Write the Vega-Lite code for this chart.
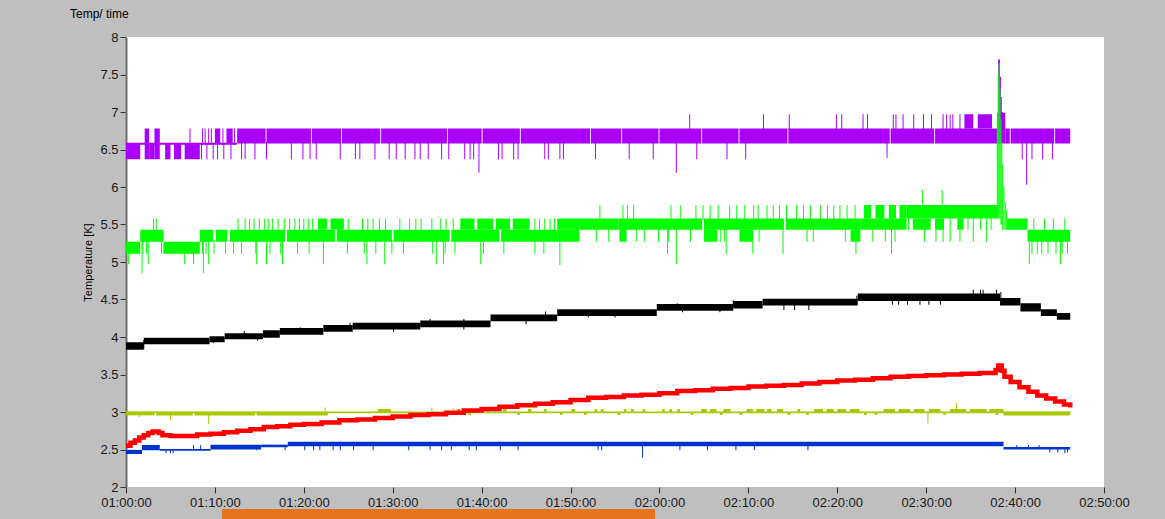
{
"$schema":"https://vega.github.io/schema/vega-lite/v6.json",
"width":978,"height":450,
"autosize":{"type":"none"},
"padding":{"left":126,"top":37,"right":61,"bottom":32},
"background":"#bfbfbf",
"title":{"text":"Temp/ time","anchor":"start","frame":"group","dx":-56,"offset":10,"fontSize":12,"font":"Liberation Sans","fontWeight":"normal","color":"#000000"},
"config":{"view":{"fill":"white","stroke":null},
 "axis":{"grid":false,"labelFont":"Liberation Sans","labelFontSize":13,"labelColor":"#1a1a1a","tickColor":"#333333","tickSize":6,"labelPadding":2,"titleFont":"Liberation Sans","titleFontWeight":"normal","titleColor":"#000000","labelOverlap":false,"labelFlush":false}},
"datasets":{
"bands":[
{"s":"T1","a":0,"b":1.6,"lo":6.37,"hi":6.58},
{"s":"T1","a":2.1,"b":2.6,"lo":6.37,"hi":6.78},
{"s":"T1","a":2.6,"b":3.2,"lo":6.37,"hi":6.58},
{"s":"T1","a":3.2,"b":3.8,"lo":6.37,"hi":6.78},
{"s":"T1","a":4.4,"b":5.0,"lo":6.37,"hi":6.58},
{"s":"T1","a":5.4,"b":6.2,"lo":6.37,"hi":6.58},
{"s":"T1","a":6.6,"b":8.3,"lo":6.37,"hi":6.58},
{"s":"T1","a":0,"b":12.5,"lo":6.565,"hi":6.59},
{"s":"T1","a":10.0,"b":10.6,"lo":6.58,"hi":6.78},
{"s":"T1","a":11.3,"b":12.0,"lo":6.58,"hi":6.78},
{"s":"T1","a":12.5,"b":15.7,"lo":6.58,"hi":6.78},
{"s":"T1","a":15.8,"b":20.8,"lo":6.58,"hi":6.78},
{"s":"T1","a":20.9,"b":24.2,"lo":6.58,"hi":6.78},
{"s":"T1","a":24.3,"b":28.6,"lo":6.58,"hi":6.78},
{"s":"T1","a":28.7,"b":36.1,"lo":6.58,"hi":6.78},
{"s":"T1","a":36.2,"b":40.0,"lo":6.58,"hi":6.78},
{"s":"T1","a":40.1,"b":44.3,"lo":6.58,"hi":6.78},
{"s":"T1","a":44.4,"b":52.2,"lo":6.58,"hi":6.78},
{"s":"T1","a":52.3,"b":55.7,"lo":6.58,"hi":6.78},
{"s":"T1","a":55.8,"b":59.9,"lo":6.58,"hi":6.78},
{"s":"T1","a":60.0,"b":64.7,"lo":6.58,"hi":6.78},
{"s":"T1","a":64.8,"b":68.9,"lo":6.58,"hi":6.78},
{"s":"T1","a":69.0,"b":74.4,"lo":6.58,"hi":6.78},
{"s":"T1","a":74.5,"b":85.9,"lo":6.58,"hi":6.78},
{"s":"T1","a":86.0,"b":90.9,"lo":6.58,"hi":6.78},
{"s":"T1","a":91.0,"b":98.0,"lo":6.58,"hi":6.78},
{"s":"T1","a":98.0,"b":98.9,"lo":6.58,"hi":6.99},
{"s":"T1","a":98.9,"b":99.4,"lo":6.58,"hi":6.78},
{"s":"T1","a":99.5,"b":104.4,"lo":6.58,"hi":6.78},
{"s":"T1","a":104.5,"b":106.2,"lo":6.58,"hi":6.78},
{"s":"T1","a":94.3,"b":95.3,"lo":6.78,"hi":6.97},
{"s":"T1","a":95.8,"b":97.4,"lo":6.78,"hi":6.97},
{"s":"T2","a":0,"b":1.6,"lo":5.11,"hi":5.27},
{"s":"T2","a":1.6,"b":4.2,"lo":5.27,"hi":5.43},
{"s":"T2","a":4.2,"b":8.3,"lo":5.11,"hi":5.27},
{"s":"T2","a":8.3,"b":9.8,"lo":5.27,"hi":5.43},
{"s":"T2","a":10.1,"b":11.4,"lo":5.27,"hi":5.43},
{"s":"T2","a":11.7,"b":17.9,"lo":5.27,"hi":5.43},
{"s":"T2","a":18.1,"b":23.5,"lo":5.27,"hi":5.43},
{"s":"T2","a":23.7,"b":29.9,"lo":5.27,"hi":5.43},
{"s":"T2","a":30.1,"b":36.4,"lo":5.27,"hi":5.43},
{"s":"T2","a":36.6,"b":42.0,"lo":5.27,"hi":5.43},
{"s":"T2","a":42.2,"b":48.5,"lo":5.27,"hi":5.43},
{"s":"T2","a":21.6,"b":22.6,"lo":5.43,"hi":5.58},
{"s":"T2","a":23.0,"b":24.5,"lo":5.43,"hi":5.58},
{"s":"T2","a":37.6,"b":39.2,"lo":5.43,"hi":5.58},
{"s":"T2","a":39.5,"b":41.3,"lo":5.43,"hi":5.58},
{"s":"T2","a":41.6,"b":43.2,"lo":5.43,"hi":5.58},
{"s":"T2","a":43.5,"b":45.4,"lo":5.43,"hi":5.58},
{"s":"T2","a":48.5,"b":55.4,"lo":5.43,"hi":5.58},
{"s":"T2","a":55.4,"b":64.8,"lo":5.43,"hi":5.58},
{"s":"T2","a":65.0,"b":74.0,"lo":5.43,"hi":5.58},
{"s":"T2","a":74.2,"b":82.6,"lo":5.43,"hi":5.58},
{"s":"T2","a":48.5,"b":51.0,"lo":5.27,"hi":5.43},
{"s":"T2","a":55.5,"b":56.3,"lo":5.27,"hi":5.43},
{"s":"T2","a":65.0,"b":66.5,"lo":5.27,"hi":5.43},
{"s":"T2","a":69.0,"b":70.5,"lo":5.27,"hi":5.43},
{"s":"T2","a":81.5,"b":82.6,"lo":5.27,"hi":5.43},
{"s":"T2","a":82.6,"b":87.8,"lo":5.43,"hi":5.58},
{"s":"T2","a":83.0,"b":83.8,"lo":5.58,"hi":5.76},
{"s":"T2","a":84.3,"b":85.3,"lo":5.58,"hi":5.76},
{"s":"T2","a":85.8,"b":86.6,"lo":5.58,"hi":5.76},
{"s":"T2","a":87.0,"b":87.8,"lo":5.58,"hi":5.76},
{"s":"T2","a":87.8,"b":98.0,"lo":5.58,"hi":5.76},
{"s":"T2","a":88.5,"b":90.5,"lo":5.43,"hi":5.58},
{"s":"T2","a":91.0,"b":92.0,"lo":5.43,"hi":5.58},
{"s":"T2","a":93.5,"b":94.2,"lo":5.43,"hi":5.58},
{"s":"T2","a":99.1,"b":101.4,"lo":5.43,"hi":5.58},
{"s":"T2","a":101.4,"b":106.2,"lo":5.27,"hi":5.43},
{"s":"T3","a":0,"b":2,"lo":3.83,"hi":3.93},
{"s":"T3","a":2,"b":9.4,"lo":3.905,"hi":3.99},
{"s":"T3","a":9.4,"b":11.1,"lo":3.93,"hi":4.01},
{"s":"T3","a":11.1,"b":15.4,"lo":3.97,"hi":4.05},
{"s":"T3","a":15.4,"b":17.3,"lo":3.99,"hi":4.09},
{"s":"T3","a":17.3,"b":22.2,"lo":4.03,"hi":4.12},
{"s":"T3","a":22.2,"b":25.5,"lo":4.07,"hi":4.16},
{"s":"T3","a":25.5,"b":33.1,"lo":4.1,"hi":4.19},
{"s":"T3","a":33.1,"b":41.0,"lo":4.13,"hi":4.22},
{"s":"T3","a":41.0,"b":48.5,"lo":4.21,"hi":4.3},
{"s":"T3","a":48.5,"b":59.7,"lo":4.28,"hi":4.37},
{"s":"T3","a":59.7,"b":68.3,"lo":4.35,"hi":4.44},
{"s":"T3","a":68.3,"b":71.6,"lo":4.38,"hi":4.48},
{"s":"T3","a":71.6,"b":82.3,"lo":4.42,"hi":4.51},
{"s":"T3","a":82.3,"b":98.3,"lo":4.48,"hi":4.58},
{"s":"T3","a":98.3,"b":100.6,"lo":4.42,"hi":4.52},
{"s":"T3","a":100.6,"b":102.9,"lo":4.34,"hi":4.45},
{"s":"T3","a":102.9,"b":104.7,"lo":4.28,"hi":4.37},
{"s":"T3","a":104.7,"b":106.2,"lo":4.23,"hi":4.32},
{"s":"T5","a":0,"b":3.2,"lo":2.955,"hi":3.005},
{"s":"T5","a":3.4,"b":7.5,"lo":2.955,"hi":3.005},
{"s":"T5","a":7.7,"b":14.5,"lo":2.955,"hi":3.005},
{"s":"T5","a":14.7,"b":22.7,"lo":2.955,"hi":3.005},
{"s":"T5","a":0,"b":106.2,"lo":2.985,"hi":3.008},
{"s":"T5","a":98.7,"b":106.2,"lo":2.955,"hi":3.005},
{"s":"T5","a":28.3,"b":29.8,"lo":3.0,"hi":3.04},
{"s":"T5","a":37.2,"b":37.6,"lo":3.0,"hi":3.04},
{"s":"T5","a":40.6,"b":41.0,"lo":3.0,"hi":3.04},
{"s":"T5","a":42.4,"b":42.8,"lo":3.0,"hi":3.04},
{"s":"T5","a":45.2,"b":45.6,"lo":3.0,"hi":3.04},
{"s":"T5","a":47.0,"b":47.3,"lo":3.0,"hi":3.04},
{"s":"T5","a":50.1,"b":50.5,"lo":3.0,"hi":3.04},
{"s":"T5","a":52.7,"b":53.0,"lo":3.0,"hi":3.04},
{"s":"T5","a":53.4,"b":53.7,"lo":3.0,"hi":3.04},
{"s":"T5","a":56.0,"b":56.3,"lo":3.0,"hi":3.04},
{"s":"T5","a":56.8,"b":57.1,"lo":3.0,"hi":3.04},
{"s":"T5","a":58.1,"b":58.4,"lo":3.0,"hi":3.04},
{"s":"T5","a":60.3,"b":60.6,"lo":3.0,"hi":3.04},
{"s":"T5","a":61.1,"b":61.4,"lo":3.0,"hi":3.04},
{"s":"T5","a":62.0,"b":62.3,"lo":3.0,"hi":3.04},
{"s":"T5","a":64.7,"b":65.3,"lo":3.0,"hi":3.04},
{"s":"T5","a":65.7,"b":66.4,"lo":3.0,"hi":3.04},
{"s":"T5","a":67.2,"b":68.0,"lo":3.0,"hi":3.04},
{"s":"T5","a":69.8,"b":70.5,"lo":3.0,"hi":3.04},
{"s":"T5","a":70.9,"b":71.8,"lo":3.0,"hi":3.04},
{"s":"T5","a":72.1,"b":72.6,"lo":3.0,"hi":3.04},
{"s":"T5","a":73.2,"b":73.9,"lo":3.0,"hi":3.04},
{"s":"T5","a":75.5,"b":75.8,"lo":3.0,"hi":3.04},
{"s":"T5","a":77.4,"b":78.4,"lo":3.0,"hi":3.04},
{"s":"T5","a":78.8,"b":79.6,"lo":3.0,"hi":3.04},
{"s":"T5","a":80.0,"b":81.0,"lo":3.0,"hi":3.04},
{"s":"T5","a":81.4,"b":82.5,"lo":3.0,"hi":3.04},
{"s":"T5","a":85.2,"b":86.5,"lo":3.0,"hi":3.04},
{"s":"T5","a":86.9,"b":88.2,"lo":3.0,"hi":3.04},
{"s":"T5","a":88.6,"b":89.8,"lo":3.0,"hi":3.04},
{"s":"T5","a":90.3,"b":91.6,"lo":3.0,"hi":3.04},
{"s":"T5","a":92.7,"b":94.5,"lo":3.0,"hi":3.04},
{"s":"T5","a":94.9,"b":96.8,"lo":3.0,"hi":3.04},
{"s":"T5","a":97.1,"b":98.7,"lo":3.0,"hi":3.04},
{"s":"T5","a":38.5,"b":38.8,"lo":2.96,"hi":3.0},
{"s":"T5","a":44.0,"b":44.3,"lo":2.96,"hi":3.0},
{"s":"T5","a":48.8,"b":49.1,"lo":2.96,"hi":3.0},
{"s":"T5","a":51.5,"b":51.8,"lo":2.96,"hi":3.0},
{"s":"T5","a":55.3,"b":55.6,"lo":2.96,"hi":3.0},
{"s":"T5","a":63.5,"b":63.8,"lo":2.96,"hi":3.0},
{"s":"T5","a":66.8,"b":67.1,"lo":2.96,"hi":3.0},
{"s":"T5","a":69.0,"b":69.3,"lo":2.96,"hi":3.0},
{"s":"T5","a":74.4,"b":74.7,"lo":2.96,"hi":3.0},
{"s":"T5","a":76.5,"b":76.8,"lo":2.96,"hi":3.0},
{"s":"T5","a":83.0,"b":83.3,"lo":2.96,"hi":3.0},
{"s":"T5","a":84.2,"b":84.5,"lo":2.96,"hi":3.0},
{"s":"T5","a":91.9,"b":92.2,"lo":2.96,"hi":3.0},
{"s":"T5","a":97.8,"b":98.1,"lo":2.96,"hi":3.0},
{"s":"T6","a":0,"b":1.8,"lo":2.44,"hi":2.495},
{"s":"T6","a":1.8,"b":3.8,"lo":2.49,"hi":2.56},
{"s":"T6","a":3.8,"b":9.5,"lo":2.483,"hi":2.507},
{"s":"T6","a":9.5,"b":15.2,"lo":2.5,"hi":2.565},
{"s":"T6","a":15.2,"b":18.2,"lo":2.53,"hi":2.565},
{"s":"T6","a":18.2,"b":98.7,"lo":2.545,"hi":2.605},
{"s":"T6","a":98.7,"b":106.2,"lo":2.5,"hi":2.535}
],
"spikes":[
{"s":"T1","m":7.2,"lo":6.56,"hi":6.78},{"s":"T1","m":8.6,"lo":6.56,"hi":6.78},{"s":"T1","m":8.9,"lo":6.56,"hi":6.78},{"s":"T1","m":9.3,"lo":6.56,"hi":6.78},{"s":"T1","m":9.6,"lo":6.56,"hi":6.78},{"s":"T1","m":10.9,"lo":6.56,"hi":6.78},{"s":"T1","m":12.2,"lo":6.56,"hi":6.78},
{"s":"T1","m":8.5,"lo":6.37,"hi":6.58},{"s":"T1","m":9.1,"lo":6.37,"hi":6.58},{"s":"T1","m":9.8,"lo":6.37,"hi":6.58},{"s":"T1","m":10.3,"lo":6.37,"hi":6.58},{"s":"T1","m":11.0,"lo":6.37,"hi":6.58},{"s":"T1","m":11.8,"lo":6.37,"hi":6.58},
{"s":"T1","m":13.0,"lo":6.37,"hi":6.6},{"s":"T1","m":13.4,"lo":6.37,"hi":6.6},{"s":"T1","m":14.5,"lo":6.37,"hi":6.6},{"s":"T1","m":15.8,"lo":6.37,"hi":6.6},{"s":"T1","m":18.6,"lo":6.37,"hi":6.6},{"s":"T1","m":19.9,"lo":6.37,"hi":6.6},{"s":"T1","m":20.7,"lo":6.37,"hi":6.6},{"s":"T1","m":21.4,"lo":6.37,"hi":6.6},{"s":"T1","m":24.1,"lo":6.37,"hi":6.6},{"s":"T1","m":25.8,"lo":6.37,"hi":6.6},{"s":"T1","m":26.3,"lo":6.37,"hi":6.6},{"s":"T1","m":28.0,"lo":6.37,"hi":6.6},{"s":"T1","m":29.6,"lo":6.37,"hi":6.6},{"s":"T1","m":30.4,"lo":6.37,"hi":6.6},{"s":"T1","m":31.4,"lo":6.37,"hi":6.6},{"s":"T1","m":32.5,"lo":6.37,"hi":6.6},{"s":"T1","m":33.1,"lo":6.37,"hi":6.6},{"s":"T1","m":34.0,"lo":6.37,"hi":6.6},{"s":"T1","m":35.5,"lo":6.37,"hi":6.6},{"s":"T1","m":36.3,"lo":6.37,"hi":6.6},{"s":"T1","m":38.1,"lo":6.37,"hi":6.6},{"s":"T1","m":38.7,"lo":6.37,"hi":6.6},{"s":"T1","m":39.1,"lo":6.37,"hi":6.6},{"s":"T1","m":39.7,"lo":6.19,"hi":6.6},{"s":"T1","m":41.9,"lo":6.37,"hi":6.6},{"s":"T1","m":42.3,"lo":6.37,"hi":6.6},{"s":"T1","m":43.6,"lo":6.37,"hi":6.6},{"s":"T1","m":44.1,"lo":6.37,"hi":6.6},{"s":"T1","m":47.1,"lo":6.37,"hi":6.6},{"s":"T1","m":47.5,"lo":6.37,"hi":6.6},{"s":"T1","m":48.8,"lo":6.37,"hi":6.6},{"s":"T1","m":49.2,"lo":6.37,"hi":6.6},{"s":"T1","m":52.8,"lo":6.37,"hi":6.6},{"s":"T1","m":56.6,"lo":6.37,"hi":6.6},{"s":"T1","m":59.3,"lo":6.37,"hi":6.6},{"s":"T1","m":61.9,"lo":6.19,"hi":6.6},{"s":"T1","m":64.2,"lo":6.37,"hi":6.6},{"s":"T1","m":67.6,"lo":6.37,"hi":6.6},{"s":"T1","m":69.7,"lo":6.37,"hi":6.6},{"s":"T1","m":85.6,"lo":6.39,"hi":6.6},{"s":"T1","m":100.8,"lo":6.37,"hi":6.6},{"s":"T1","m":101.3,"lo":6.03,"hi":6.6},{"s":"T1","m":101.9,"lo":6.37,"hi":6.6},{"s":"T1","m":103.1,"lo":6.37,"hi":6.6},{"s":"T1","m":104.2,"lo":6.37,"hi":6.6},
{"s":"T1","m":63.4,"lo":6.76,"hi":6.97},{"s":"T1","m":71.7,"lo":6.76,"hi":6.97},{"s":"T1","m":74.6,"lo":6.76,"hi":6.97},{"s":"T1","m":79.9,"lo":6.76,"hi":6.97},{"s":"T1","m":80.5,"lo":6.76,"hi":6.97},{"s":"T1","m":82.9,"lo":6.76,"hi":6.97},{"s":"T1","m":83.4,"lo":6.76,"hi":6.97},{"s":"T1","m":86.3,"lo":6.76,"hi":6.97},{"s":"T1","m":86.6,"lo":6.76,"hi":6.97},{"s":"T1","m":87.4,"lo":6.76,"hi":6.97},{"s":"T1","m":88.6,"lo":6.76,"hi":6.97},{"s":"T1","m":89.7,"lo":6.76,"hi":6.97},{"s":"T1","m":90.6,"lo":6.76,"hi":6.97},{"s":"T1","m":91.9,"lo":6.76,"hi":6.97},{"s":"T1","m":92.3,"lo":6.76,"hi":6.97},{"s":"T1","m":92.7,"lo":6.76,"hi":6.97},{"s":"T1","m":93.0,"lo":6.76,"hi":6.97},{"s":"T1","m":93.8,"lo":6.76,"hi":6.97},
{"s":"T1","m":98.15,"lo":6.78,"hi":7.7},{"s":"T1","m":98.25,"lo":6.78,"hi":7.7},{"s":"T1","m":98.35,"lo":6.78,"hi":7.47},{"s":"T1","m":98.45,"lo":6.78,"hi":7.2},{"s":"T1","m":98.55,"lo":6.78,"hi":7.0},
{"s":"T2","m":1.9,"lo":5.11,"hi":5.3},{"s":"T2","m":2.3,"lo":5.11,"hi":5.3},{"s":"T2","m":4.0,"lo":5.11,"hi":5.3},{"s":"T2","m":8.6,"lo":5.11,"hi":5.3},{"s":"T2","m":9.0,"lo":5.11,"hi":5.3},{"s":"T2","m":9.9,"lo":5.11,"hi":5.3},{"s":"T2","m":11.2,"lo":5.11,"hi":5.3},{"s":"T2","m":12.1,"lo":5.11,"hi":5.3},{"s":"T2","m":13.0,"lo":5.11,"hi":5.3},{"s":"T2","m":14.6,"lo":5.11,"hi":5.3},{"s":"T2","m":16.2,"lo":5.11,"hi":5.3},{"s":"T2","m":17.4,"lo":5.11,"hi":5.3},{"s":"T2","m":19.3,"lo":5.11,"hi":5.3},{"s":"T2","m":20.6,"lo":5.11,"hi":5.3},{"s":"T2","m":24.9,"lo":5.11,"hi":5.3},{"s":"T2","m":26.8,"lo":5.11,"hi":5.3},{"s":"T2","m":28.1,"lo":5.11,"hi":5.3},{"s":"T2","m":29.9,"lo":5.11,"hi":5.3},{"s":"T2","m":31.2,"lo":5.11,"hi":5.3},{"s":"T2","m":34.5,"lo":5.11,"hi":5.3},{"s":"T2","m":35.9,"lo":5.11,"hi":5.3},{"s":"T2","m":37.0,"lo":5.11,"hi":5.3},{"s":"T2","m":40.2,"lo":5.11,"hi":5.3},{"s":"T2","m":42.5,"lo":5.11,"hi":5.3},{"s":"T2","m":46.0,"lo":5.11,"hi":5.3},{"s":"T2","m":47.0,"lo":5.11,"hi":5.3},
{"s":"T2","m":0.3,"lo":4.97,"hi":5.2},{"s":"T2","m":1.8,"lo":4.85,"hi":5.3},{"s":"T2","m":2.5,"lo":4.97,"hi":5.3},{"s":"T2","m":6.6,"lo":4.97,"hi":5.2},{"s":"T2","m":7.6,"lo":4.97,"hi":5.2},{"s":"T2","m":8.7,"lo":4.85,"hi":5.3},{"s":"T2","m":9.3,"lo":4.97,"hi":5.3},{"s":"T2","m":14.7,"lo":4.97,"hi":5.3},{"s":"T2","m":15.8,"lo":4.97,"hi":5.3},{"s":"T2","m":17.6,"lo":4.97,"hi":5.3},{"s":"T2","m":22.2,"lo":4.97,"hi":5.3},{"s":"T2","m":27.1,"lo":4.97,"hi":5.3},{"s":"T2","m":29.1,"lo":4.97,"hi":5.3},{"s":"T2","m":34.9,"lo":4.97,"hi":5.3},{"s":"T2","m":35.7,"lo":4.97,"hi":5.3},{"s":"T2","m":39.9,"lo":4.97,"hi":5.3},
{"s":"T2","m":52.9,"lo":5.27,"hi":5.45},{"s":"T2","m":54.3,"lo":5.27,"hi":5.45},{"s":"T2","m":57.4,"lo":5.27,"hi":5.45},{"s":"T2","m":58.3,"lo":5.27,"hi":5.45},{"s":"T2","m":59.9,"lo":5.27,"hi":5.45},{"s":"T2","m":61.0,"lo":5.27,"hi":5.45},{"s":"T2","m":63.5,"lo":5.27,"hi":5.45},{"s":"T2","m":66.9,"lo":5.27,"hi":5.45},{"s":"T2","m":67.3,"lo":5.27,"hi":5.45},{"s":"T2","m":71.2,"lo":5.27,"hi":5.45},{"s":"T2","m":76.6,"lo":5.27,"hi":5.45},{"s":"T2","m":77.3,"lo":5.27,"hi":5.45},{"s":"T2","m":80.9,"lo":5.27,"hi":5.45},{"s":"T2","m":84.0,"lo":5.27,"hi":5.45},{"s":"T2","m":85.4,"lo":5.27,"hi":5.45},{"s":"T2","m":86.5,"lo":5.27,"hi":5.45},
{"s":"T2","m":48.8,"lo":4.96,"hi":5.45},{"s":"T2","m":60.9,"lo":5.11,"hi":5.45},{"s":"T2","m":61.9,"lo":4.97,"hi":5.45},{"s":"T2","m":67.5,"lo":5.11,"hi":5.45},{"s":"T2","m":70.5,"lo":5.11,"hi":5.45},{"s":"T2","m":73.9,"lo":5.11,"hi":5.45},{"s":"T2","m":82.1,"lo":5.11,"hi":5.45},{"s":"T2","m":86.1,"lo":5.11,"hi":5.45},
{"s":"T2","m":89.8,"lo":5.27,"hi":5.6},{"s":"T2","m":91.1,"lo":5.27,"hi":5.6},{"s":"T2","m":91.9,"lo":5.27,"hi":5.6},{"s":"T2","m":92.7,"lo":5.27,"hi":5.6},{"s":"T2","m":93.8,"lo":5.27,"hi":5.6},{"s":"T2","m":95.3,"lo":5.27,"hi":5.6},{"s":"T2","m":96.8,"lo":5.27,"hi":5.6},{"s":"T2","m":88.0,"lo":5.43,"hi":5.6},{"s":"T2","m":94.7,"lo":5.43,"hi":5.6},{"s":"T2","m":96.1,"lo":5.43,"hi":5.6},{"s":"T2","m":97.3,"lo":5.43,"hi":5.6},
{"s":"T2","m":3.1,"lo":5.4,"hi":5.58},{"s":"T2","m":3.4,"lo":5.4,"hi":5.58},{"s":"T2","m":12.6,"lo":5.4,"hi":5.58},{"s":"T2","m":13.4,"lo":5.4,"hi":5.58},{"s":"T2","m":13.9,"lo":5.4,"hi":5.58},{"s":"T2","m":14.4,"lo":5.4,"hi":5.58},{"s":"T2","m":15.0,"lo":5.4,"hi":5.58},{"s":"T2","m":15.6,"lo":5.4,"hi":5.58},{"s":"T2","m":16.0,"lo":5.4,"hi":5.58},{"s":"T2","m":16.5,"lo":5.4,"hi":5.58},{"s":"T2","m":17.1,"lo":5.4,"hi":5.58},{"s":"T2","m":17.8,"lo":5.4,"hi":5.58},{"s":"T2","m":18.4,"lo":5.4,"hi":5.58},{"s":"T2","m":19.0,"lo":5.4,"hi":5.58},{"s":"T2","m":19.5,"lo":5.4,"hi":5.58},{"s":"T2","m":20.0,"lo":5.4,"hi":5.58},{"s":"T2","m":20.5,"lo":5.4,"hi":5.58},{"s":"T2","m":21.0,"lo":5.4,"hi":5.58},{"s":"T2","m":25.0,"lo":5.4,"hi":5.58},{"s":"T2","m":26.6,"lo":5.4,"hi":5.58},{"s":"T2","m":27.2,"lo":5.4,"hi":5.58},{"s":"T2","m":27.8,"lo":5.4,"hi":5.58},{"s":"T2","m":28.5,"lo":5.4,"hi":5.58},{"s":"T2","m":29.2,"lo":5.4,"hi":5.58},{"s":"T2","m":30.8,"lo":5.4,"hi":5.58},{"s":"T2","m":31.9,"lo":5.4,"hi":5.58},{"s":"T2","m":32.6,"lo":5.4,"hi":5.58},{"s":"T2","m":33.2,"lo":5.4,"hi":5.58},{"s":"T2","m":34.4,"lo":5.4,"hi":5.58},{"s":"T2","m":35.4,"lo":5.4,"hi":5.58},{"s":"T2","m":36.0,"lo":5.4,"hi":5.58},{"s":"T2","m":36.8,"lo":5.4,"hi":5.58},{"s":"T2","m":46.0,"lo":5.4,"hi":5.58},{"s":"T2","m":46.5,"lo":5.4,"hi":5.58},{"s":"T2","m":47.1,"lo":5.4,"hi":5.58},{"s":"T2","m":47.7,"lo":5.4,"hi":5.58},{"s":"T2","m":48.2,"lo":5.4,"hi":5.58},
{"s":"T2","m":53.3,"lo":5.56,"hi":5.76},{"s":"T2","m":55.9,"lo":5.56,"hi":5.76},{"s":"T2","m":56.4,"lo":5.56,"hi":5.76},{"s":"T2","m":57.1,"lo":5.56,"hi":5.76},{"s":"T2","m":61.3,"lo":5.56,"hi":5.76},{"s":"T2","m":62.4,"lo":5.56,"hi":5.76},{"s":"T2","m":64.1,"lo":5.56,"hi":5.76},{"s":"T2","m":64.9,"lo":5.56,"hi":5.76},{"s":"T2","m":65.7,"lo":5.56,"hi":5.76},{"s":"T2","m":66.6,"lo":5.56,"hi":5.76},{"s":"T2","m":67.9,"lo":5.56,"hi":5.76},{"s":"T2","m":68.7,"lo":5.56,"hi":5.76},{"s":"T2","m":69.6,"lo":5.56,"hi":5.76},{"s":"T2","m":70.6,"lo":5.56,"hi":5.76},{"s":"T2","m":71.1,"lo":5.56,"hi":5.76},{"s":"T2","m":72.1,"lo":5.56,"hi":5.76},{"s":"T2","m":72.8,"lo":5.56,"hi":5.76},{"s":"T2","m":73.5,"lo":5.56,"hi":5.76},{"s":"T2","m":74.3,"lo":5.56,"hi":5.76},{"s":"T2","m":75.4,"lo":5.56,"hi":5.76},{"s":"T2","m":76.2,"lo":5.56,"hi":5.76},{"s":"T2","m":77.0,"lo":5.56,"hi":5.76},{"s":"T2","m":78.1,"lo":5.56,"hi":5.76},{"s":"T2","m":78.9,"lo":5.56,"hi":5.76},{"s":"T2","m":79.6,"lo":5.56,"hi":5.76},{"s":"T2","m":80.3,"lo":5.56,"hi":5.76},{"s":"T2","m":81.1,"lo":5.56,"hi":5.76},{"s":"T2","m":82.0,"lo":5.56,"hi":5.76},
{"s":"T2","m":89.6,"lo":5.74,"hi":5.96},{"s":"T2","m":91.8,"lo":5.74,"hi":5.96},
{"s":"T2","m":102.1,"lo":5.41,"hi":5.58},{"s":"T2","m":103.3,"lo":5.41,"hi":5.58},{"s":"T2","m":104.3,"lo":5.41,"hi":5.58},{"s":"T2","m":105.6,"lo":5.41,"hi":5.58},
{"s":"T2","m":101.6,"lo":4.97,"hi":5.3},{"s":"T2","m":101.9,"lo":5.11,"hi":5.3},{"s":"T2","m":102.5,"lo":5.11,"hi":5.3},{"s":"T2","m":103.0,"lo":5.11,"hi":5.3},{"s":"T2","m":103.7,"lo":5.11,"hi":5.3},{"s":"T2","m":104.6,"lo":5.11,"hi":5.3},{"s":"T2","m":105.1,"lo":4.97,"hi":5.3},{"s":"T2","m":105.3,"lo":5.11,"hi":5.3},{"s":"T2","m":105.9,"lo":5.11,"hi":5.3},
{"s":"T2","m":98.0,"lo":5.58,"hi":6.9},{"s":"T2","m":98.1,"lo":5.58,"hi":7.5},{"s":"T2","m":98.2,"lo":5.58,"hi":7.65},{"s":"T2","m":98.3,"lo":5.58,"hi":7.3},{"s":"T2","m":98.4,"lo":5.5,"hi":6.9},{"s":"T2","m":98.5,"lo":5.5,"hi":6.6},{"s":"T2","m":98.6,"lo":5.43,"hi":6.3},{"s":"T2","m":98.75,"lo":5.43,"hi":6.0},{"s":"T2","m":98.9,"lo":5.43,"hi":5.8},{"s":"T2","m":99.05,"lo":5.43,"hi":5.7},
{"s":"T3","m":2.0,"lo":3.84,"hi":3.96},{"s":"T3","m":9.8,"lo":3.92,"hi":4.0},{"s":"T3","m":13.3,"lo":3.98,"hi":4.08},{"s":"T3","m":14.8,"lo":3.95,"hi":4.02},{"s":"T3","m":19.6,"lo":4.06,"hi":4.13},{"s":"T3","m":25.2,"lo":4.1,"hi":4.19},{"s":"T3","m":30.1,"lo":4.07,"hi":4.15},{"s":"T3","m":34.2,"lo":4.16,"hi":4.24},{"s":"T3","m":38.0,"lo":4.1,"hi":4.24},{"s":"T3","m":45.0,"lo":4.17,"hi":4.25},{"s":"T3","m":47.2,"lo":4.25,"hi":4.34},{"s":"T3","m":52.0,"lo":4.26,"hi":4.32},{"s":"T3","m":55.0,"lo":4.26,"hi":4.32},{"s":"T3","m":62.0,"lo":4.38,"hi":4.45},{"s":"T3","m":62.6,"lo":4.33,"hi":4.4},{"s":"T3","m":66.8,"lo":4.33,"hi":4.4},{"s":"T3","m":68.3,"lo":4.4,"hi":4.49},{"s":"T3","m":74.0,"lo":4.36,"hi":4.45},{"s":"T3","m":75.2,"lo":4.36,"hi":4.45},{"s":"T3","m":76.8,"lo":4.36,"hi":4.45},{"s":"T3","m":82.2,"lo":4.45,"hi":4.55},{"s":"T3","m":86.2,"lo":4.43,"hi":4.51},{"s":"T3","m":86.9,"lo":4.43,"hi":4.51},{"s":"T3","m":87.9,"lo":4.43,"hi":4.51},{"s":"T3","m":89.3,"lo":4.43,"hi":4.51},{"s":"T3","m":90.3,"lo":4.43,"hi":4.51},{"s":"T3","m":91.6,"lo":4.43,"hi":4.51},{"s":"T3","m":95.3,"lo":4.55,"hi":4.63},{"s":"T3","m":96.1,"lo":4.55,"hi":4.63},{"s":"T3","m":96.4,"lo":4.55,"hi":4.63},{"s":"T3","m":97.9,"lo":4.55,"hi":4.63},{"s":"T3","m":98.4,"lo":4.5,"hi":4.6},
{"s":"T5","m":1.5,"lo":2.93,"hi":2.97},{"s":"T5","m":5.0,"lo":2.89,"hi":2.97},{"s":"T5","m":9.3,"lo":2.84,"hi":2.97},{"s":"T5","m":90.2,"lo":2.85,"hi":3.0},{"s":"T5","m":22.4,"lo":3.0,"hi":3.06},{"s":"T5","m":34.4,"lo":3.0,"hi":3.06},{"s":"T5","m":36.8,"lo":3.0,"hi":3.05},{"s":"T5","m":93.4,"lo":3.0,"hi":3.12},
{"s":"T6","m":4.5,"lo":2.45,"hi":2.5},{"s":"T6","m":5.0,"lo":2.45,"hi":2.5},{"s":"T6","m":5.3,"lo":2.45,"hi":2.5},{"s":"T6","m":7.6,"lo":2.49,"hi":2.56},{"s":"T6","m":8.4,"lo":2.49,"hi":2.56},
{"s":"T6","m":14.7,"lo":2.49,"hi":2.56},{"s":"T6","m":17.9,"lo":2.49,"hi":2.56},{"s":"T6","m":20.1,"lo":2.49,"hi":2.56},{"s":"T6","m":21.1,"lo":2.49,"hi":2.56},{"s":"T6","m":21.8,"lo":2.49,"hi":2.56},{"s":"T6","m":23.3,"lo":2.49,"hi":2.56},{"s":"T6","m":24.1,"lo":2.49,"hi":2.56},{"s":"T6","m":25.6,"lo":2.49,"hi":2.56},{"s":"T6","m":27.8,"lo":2.49,"hi":2.56},{"s":"T6","m":31.8,"lo":2.49,"hi":2.56},{"s":"T6","m":34.2,"lo":2.49,"hi":2.56},{"s":"T6","m":35.5,"lo":2.49,"hi":2.56},{"s":"T6","m":36.6,"lo":2.49,"hi":2.56},{"s":"T6","m":38.6,"lo":2.49,"hi":2.56},{"s":"T6","m":39.4,"lo":2.49,"hi":2.56},{"s":"T6","m":42.1,"lo":2.49,"hi":2.56},{"s":"T6","m":44.1,"lo":2.49,"hi":2.56},{"s":"T6","m":53.1,"lo":2.49,"hi":2.56},{"s":"T6","m":53.5,"lo":2.49,"hi":2.56},{"s":"T6","m":58.1,"lo":2.39,"hi":2.56},{"s":"T6","m":62.3,"lo":2.49,"hi":2.56},{"s":"T6","m":65.4,"lo":2.49,"hi":2.56},{"s":"T6","m":68.6,"lo":2.49,"hi":2.56},{"s":"T6","m":70.7,"lo":2.49,"hi":2.56},{"s":"T6","m":76.7,"lo":2.49,"hi":2.56},
{"s":"T6","m":100.2,"lo":2.51,"hi":2.56},{"s":"T6","m":101.5,"lo":2.51,"hi":2.56},{"s":"T6","m":102.7,"lo":2.51,"hi":2.56},{"s":"T6","m":103.9,"lo":2.46,"hi":2.52},{"s":"T6","m":104.8,"lo":2.46,"hi":2.52},{"s":"T6","m":105.6,"lo":2.45,"hi":2.52},{"s":"T6","m":105.9,"lo":2.46,"hi":2.52}
],
"trend":[
{"s":"T4","m":0,"v":2.55},{"s":"T4","m":0.5,"v":2.59},{"s":"T4","m":1,"v":2.62},{"s":"T4","m":1.5,"v":2.66},{"s":"T4","m":2,"v":2.69},{"s":"T4","m":2.5,"v":2.72},{"s":"T4","m":3,"v":2.74},{"s":"T4","m":3.7,"v":2.72},{"s":"T4","m":4.1,"v":2.69},{"s":"T4","m":5,"v":2.68},{"s":"T4","m":6.5,"v":2.68},{"s":"T4","m":8,"v":2.7},{"s":"T4","m":9.5,"v":2.71},{"s":"T4","m":11,"v":2.73},{"s":"T4","m":12.5,"v":2.75},{"s":"T4","m":14,"v":2.77},{"s":"T4","m":15.5,"v":2.8},{"s":"T4","m":17,"v":2.81},{"s":"T4","m":18.5,"v":2.83},{"s":"T4","m":20,"v":2.84},{"s":"T4","m":22,"v":2.86},{"s":"T4","m":24,"v":2.89},{"s":"T4","m":26,"v":2.9},{"s":"T4","m":28,"v":2.92},{"s":"T4","m":30,"v":2.94},{"s":"T4","m":32,"v":2.96},{"s":"T4","m":34,"v":2.97},{"s":"T4","m":36,"v":2.99},{"s":"T4","m":38,"v":3.02},{"s":"T4","m":40,"v":3.04},{"s":"T4","m":42,"v":3.07},{"s":"T4","m":44,"v":3.09},{"s":"T4","m":46,"v":3.11},{"s":"T4","m":48,"v":3.13},{"s":"T4","m":50,"v":3.16},{"s":"T4","m":52,"v":3.19},{"s":"T4","m":54,"v":3.2},{"s":"T4","m":56,"v":3.22},{"s":"T4","m":58,"v":3.23},{"s":"T4","m":60,"v":3.25},{"s":"T4","m":62,"v":3.28},{"s":"T4","m":64,"v":3.29},{"s":"T4","m":66,"v":3.31},{"s":"T4","m":68,"v":3.32},{"s":"T4","m":70,"v":3.34},{"s":"T4","m":72,"v":3.35},{"s":"T4","m":74,"v":3.36},{"s":"T4","m":76,"v":3.38},{"s":"T4","m":78,"v":3.4},{"s":"T4","m":80,"v":3.42},{"s":"T4","m":82,"v":3.43},{"s":"T4","m":84,"v":3.45},{"s":"T4","m":86,"v":3.47},{"s":"T4","m":88,"v":3.48},{"s":"T4","m":90,"v":3.49},{"s":"T4","m":92,"v":3.5},{"s":"T4","m":94,"v":3.51},{"s":"T4","m":96,"v":3.52},{"s":"T4","m":97.8,"v":3.56},{"s":"T4","m":98.1,"v":3.62},{"s":"T4","m":98.5,"v":3.55},{"s":"T4","m":98.8,"v":3.47},{"s":"T4","m":99.5,"v":3.4},{"s":"T4","m":100.5,"v":3.33},{"s":"T4","m":101.5,"v":3.27},{"s":"T4","m":102.5,"v":3.22},{"s":"T4","m":103.5,"v":3.18},{"s":"T4","m":104.5,"v":3.14},{"s":"T4","m":105.5,"v":3.1},{"s":"T4","m":106.2,"v":3.06}
],
"bar":[{"a":10.8,"b":59.5,"lo":1.573,"hi":1.707}]
},
"layer":[
{"data":{"name":"bands"},"mark":{"type":"rect"},
 "encoding":{
  "x":{"field":"a","type":"quantitative","scale":{"domain":[0,110],"nice":false,"zero":false},
   "axis":{"values":[0,10,20,30,40,50,60,70,80,90,100,110],"labelExpr":"'0' + (1 + floor(datum.value / 60)) + ':' + (datum.value % 60 == 0 ? '00' : '' + (datum.value % 60)) + ':00'","domain":false,"labelFlush":false,"labelOverlap":false,"labelPadding":3,"title":null}},
  "x2":{"field":"b"},
  "y":{"field":"lo","type":"quantitative","scale":{"domain":[2,8],"nice":false,"zero":false},
   "axis":{"values":[2,2.5,3,3.5,4,4.5,5,5.5,6,6.5,7,7.5,8],"format":"~g","labelOverlap":false,"labelFlush":false,"domainColor":"#6e6e6e","domainWidth":2,"title":"Temperature [K]","titleFontSize":11,"titlePadding":6}},
  "y2":{"field":"hi"},
  "color":{"field":"s","type":"nominal","scale":{"domain":["T1","T2","T3","T4","T5","T6"],"range":["#aa00ff","#00ff00","#000000","#ff0000","#a8c800","#0033cc"]},"legend":null}
 }},
{"data":{"name":"spikes"},"mark":{"type":"rule","strokeWidth":1},
 "encoding":{
  "x":{"field":"m","type":"quantitative","axis":{"values":[0,10,20,30,40,50,60,70,80,90,100,110],"labelExpr":"'0' + (1 + floor(datum.value / 60)) + ':' + (datum.value % 60 == 0 ? '00' : '' + (datum.value % 60)) + ':00'","domain":false,"labelFlush":false,"labelOverlap":false,"labelPadding":3,"title":null}},
  "y":{"field":"lo","type":"quantitative","axis":{"values":[2,2.5,3,3.5,4,4.5,5,5.5,6,6.5,7,7.5,8],"format":"~g","labelOverlap":false,"labelFlush":false,"domainColor":"#6e6e6e","domainWidth":2,"title":"Temperature [K]","titleFontSize":11,"titlePadding":6}},
  "y2":{"field":"hi"},"color":{"field":"s","type":"nominal"}}},
{"data":{"name":"trend"},"mark":{"type":"line","strokeWidth":4.5,"interpolate":"step-after"},
 "encoding":{
  "x":{"field":"m","type":"quantitative","axis":{"values":[0,10,20,30,40,50,60,70,80,90,100,110],"labelExpr":"'0' + (1 + floor(datum.value / 60)) + ':' + (datum.value % 60 == 0 ? '00' : '' + (datum.value % 60)) + ':00'","domain":false,"labelFlush":false,"labelOverlap":false,"labelPadding":3,"title":null}},
  "y":{"field":"v","type":"quantitative","axis":{"values":[2,2.5,3,3.5,4,4.5,5,5.5,6,6.5,7,7.5,8],"format":"~g","labelOverlap":false,"labelFlush":false,"domainColor":"#6e6e6e","domainWidth":2,"title":"Temperature [K]","titleFontSize":11,"titlePadding":6}},
  "color":{"field":"s","type":"nominal"}}},
{"data":{"name":"bar"},"mark":{"type":"rect","color":"#e57320"},
 "encoding":{
  "x":{"field":"a","type":"quantitative","axis":{"values":[0,10,20,30,40,50,60,70,80,90,100,110],"labelExpr":"'0' + (1 + floor(datum.value / 60)) + ':' + (datum.value % 60 == 0 ? '00' : '' + (datum.value % 60)) + ':00'","domain":false,"labelFlush":false,"labelOverlap":false,"labelPadding":3,"title":null}},
  "x2":{"field":"b"},
  "y":{"field":"lo","type":"quantitative","axis":{"values":[2,2.5,3,3.5,4,4.5,5,5.5,6,6.5,7,7.5,8],"format":"~g","labelOverlap":false,"labelFlush":false,"domainColor":"#6e6e6e","domainWidth":2,"title":"Temperature [K]","titleFontSize":11,"titlePadding":6}},
  "y2":{"field":"hi"}}}
]
}
